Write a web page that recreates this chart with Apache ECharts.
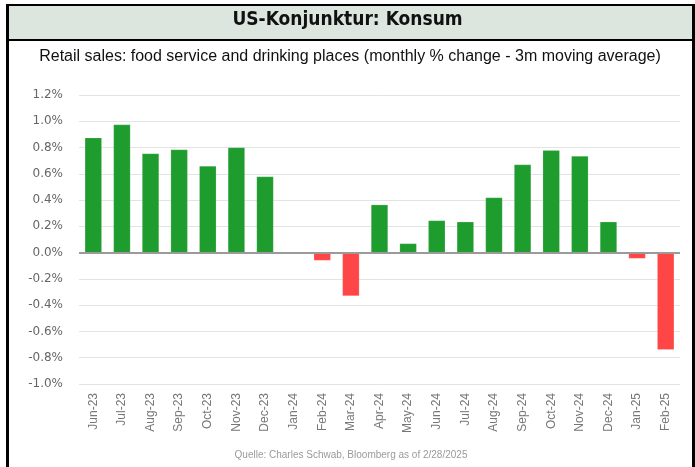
<!DOCTYPE html>
<html><head><meta charset="utf-8">
<script src="https://cdn.jsdelivr.net/npm/echarts@6/dist/echarts.min.js"></script>
<style>html,body{margin:0;padding:0;background:#fff}#c{width:695px;height:467px}</style>
</head><body><div id="c"></div>
<script>
const categories = ["Jun-23","Jul-23","Aug-23","Sep-23","Oct-23","Nov-23","Dec-23","Jan-24","Feb-24","Mar-24","Apr-24","May-24","Jun-24","Jul-24","Aug-24","Sep-24","Oct-24","Nov-24","Dec-24","Jan-25","Feb-25"];
const values = [0.875,0.975,0.755,0.785,0.66,0.80,0.58,0.0,-0.06,-0.33,0.365,0.07,0.245,0.235,0.42,0.67,0.78,0.735,0.235,-0.045,-0.74];
const titleText = "US-Konjunktur: Konsum";
const subtitleText = "Retail sales: food service and drinking places (monthly % change - 3m moving average)";
const sourceText = "Quelle: Charles Schwab, Bloomberg as of 2/28/2025";

const chart = echarts.init(document.getElementById('c'), null, {renderer:'canvas'});
chart.setOption({
  animation:false,
  backgroundColor:'#fff',
  graphic:[
    {type:'rect', shape:{x:8,y:5,width:686,height:34}, style:{fill:'#dde6de'}, z:0},
    {type:'rect', shape:{x:7,y:4,width:688,height:2}, style:{fill:'#000'}, z:1},
    {type:'rect', shape:{x:7,y:39,width:688,height:2}, style:{fill:'#000'}, z:1},
    {type:'rect', shape:{x:6,y:4,width:3,height:463}, style:{fill:'#000'}, z:1},
    {type:'rect', shape:{x:692,y:4,width:3,height:463}, style:{fill:'#000'}, z:1},
    {type:'text', left:'center', top:11, style:{text:titleText, font:'bold 19px "DejaVu Sans Condensed", "Liberation Sans"', fill:'#111'}, z:2},
    {type:'text', x:350, y:49, style:{text:subtitleText, font:'16px "Liberation Sans", Arial', fill:'#111', textAlign:'center'}, z:2},
    {type:'text', x:351, y:450, style:{text:sourceText, font:'10px "Liberation Sans", Arial', fill:'#9a9a9a', textAlign:'center'}, z:2}
  ],
  grid:{left:79, right:15, top:95, bottom:83},
  xAxis:{
    type:'category', data:categories,
    axisLine:{show:false}, axisTick:{show:false},
    axisLabel:{rotate:90, color:'#777', fontSize:12, fontFamily:'"Liberation Sans", Arial', margin:9}
  },
  yAxis:{
    type:'value', min:-1.0, max:1.2, interval:0.2,
    axisLine:{show:false}, axisTick:{show:false},
    splitLine:{lineStyle:{color:'#e3e3e3', width:1}},
    axisLabel:{color:'#666', fontSize:12, fontFamily:'"DejaVu Sans", Verdana', margin:16,
      formatter:v=>v.toFixed(1)+'%'}
  },
  series:[
    {type:'bar', data:values, barWidth:17,
     itemStyle:{color:p=>p.value>=0?'#1f9c2e':'#ff4646', borderColor:'rgba(255,255,255,0.35)', borderWidth:0.5},
     markLine:{silent:true, symbol:'none', label:{show:false},
       lineStyle:{color:'#9a9a9a', width:2, type:'solid'}, data:[{yAxis:0}]}
    }
  ]
});
</script></body></html>
